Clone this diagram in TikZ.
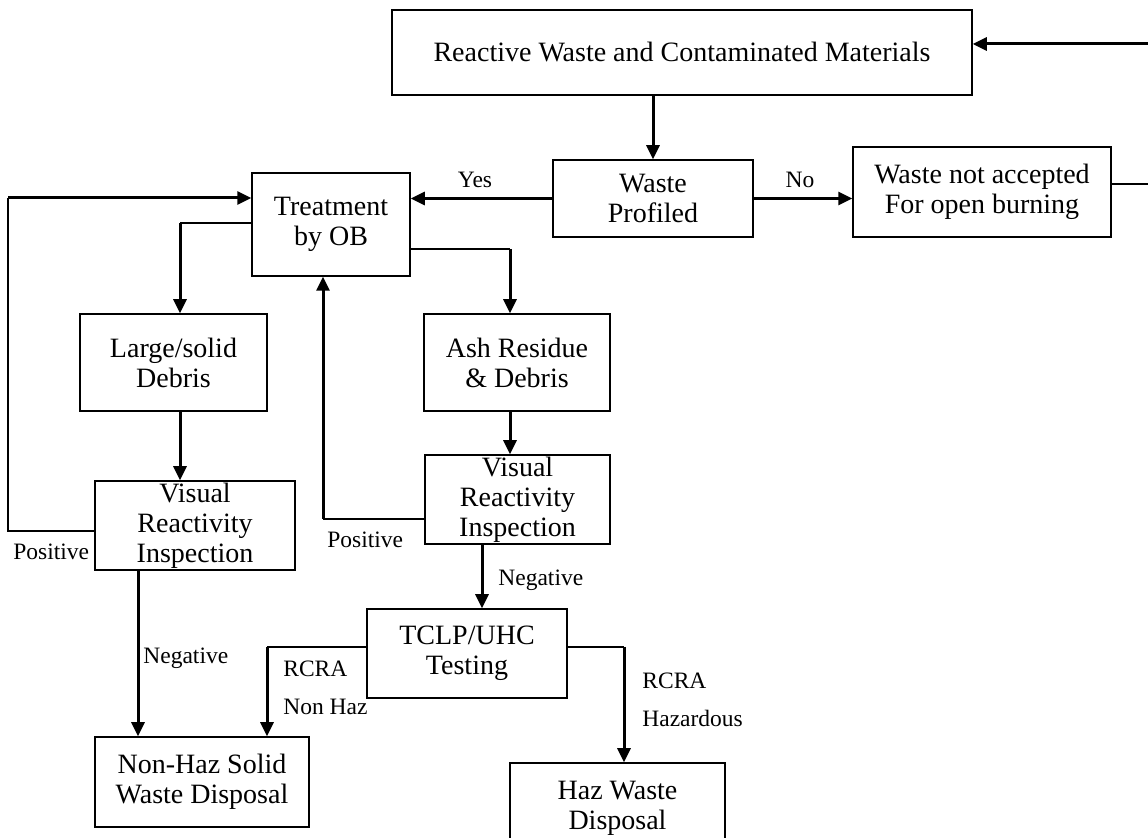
\documentclass[tikz,border=0pt]{standalone}
\usepackage{fontspec}
\setmainfont{Liberation Serif}
\usetikzlibrary{arrows.meta}
\newcommand{\mainfnt}{\fontsize{14}{15}\selectfont}
\newcommand{\labfnt}{\fontsize{11.75}{13}\selectfont}
\begin{document}
\begin{tikzpicture}[x=0.5pt,y=-0.5pt,
  box/.style={draw, line width=0.75pt, align=center, inner sep=0pt, font=\mainfnt},
  lab/.style={inner sep=0pt, font=\labfnt},
  thk/.style={line width=1.5pt},
  thn/.style={line width=0.7pt},
  arr/.style={-{Triangle[length=7pt,width=6.5pt]}}]
\useasboundingbox (0,0) rectangle (1148,838);
% boxes
\node[box, minimum width=290pt, minimum height=42.5pt] (r) at (682,52.5) {Reactive Waste and Contaminated Materials};
\node[box, minimum width=100pt, minimum height=38.5pt] (wp) at (653,198.5) {Waste\\Profiled};
\node[box, minimum width=129pt, minimum height=45pt] (wn) at (982,192) {Waste not accepted\\For open burning};
\node[box, minimum width=79pt, minimum height=51.5pt] (t) at (331,224.5) {Treatment\\by OB};
\node[box, minimum width=93.5pt, minimum height=48.5pt] (l) at (173.5,362.5) {Large/solid\\Debris};
\node[box, minimum width=93pt, minimum height=48.5pt] (a) at (517,362.5) {Ash Residue\\\& Debris};
\node[box, minimum width=100pt, minimum height=44.5pt] (vl) at (195,525.5) {Visual\\Reactivity\\Inspection};
\node[box, minimum width=92.5pt, minimum height=44.5pt] (vm) at (517.5,499.5) {Visual\\Reactivity\\Inspection};
\node[box, minimum width=100pt, minimum height=44.5pt] (tc) at (467,653.5) {TCLP/UHC\\Testing};
\node[box, minimum width=107pt, minimum height=45pt] (nh) at (202,782) {Non-Haz Solid\\Waste Disposal};
\node[box, minimum width=107.5pt, minimum height=45pt] (hz) at (617.5,808) {Haz Waste\\Disposal};
% junction coordinates
\coordinate (c1) at (1160,184);
\coordinate (c2) at (1160,44);
\coordinate (c3) at (180,223);
\coordinate (c4) at (510,249);
\coordinate (c5) at (8,531);
\coordinate (c6) at (8,198);
\coordinate (c7) at (323,519);
\coordinate (c8) at (138,570);
\coordinate (c9) at (482,544);
\coordinate (c10) at (267,647);
\coordinate (c11) at (624,647);
% connectors
\draw[thn] (c1 -| wn.east) -- (c1);
\draw[thk, arr] (c1) -- (c2) -- (c2 -| r.east);
\draw[thk, arr] (wp.north |- r.south) -- (wp.north);
\draw[thk, arr] (wp.west) -- (wp.west -| t.east);
\draw[thk, arr] (wp.east) -- (wp.east -| wn.west);
\draw[thn] (c3 -| t.west) -- (c3);
\draw[thk, arr] (c3) -- (c3 |- l.north);
\draw[thn] (c4 -| t.east) -- (c4);
\draw[thk, arr] (c4) -- (c4 |- a.north);
\draw[thk, arr] (c3 |- l.south) -- (c3 |- vl.north);
\draw[thk, arr] (c4 |- a.south) -- (c4 |- vm.north);
\draw[thn] (c5 -| vl.west) -- (c5) -- (c6);
\draw[thk, arr] (c6) -- (c6 -| t.west);
\draw[thn] (c7 -| vm.west) -- (c7);
\draw[thk, arr] (c7) -- (c7 |- t.south);
\draw[thk, arr] (c8 |- vl.south) -- (c8 |- nh.north);
\draw[thk, arr] (c9 |- vm.south) -- (c9 |- tc.north);
\draw[thn] (c10 -| tc.west) -- (c10);
\draw[thk, arr] (c10) -- (c10 |- nh.north);
\draw[thn] (c11 -| tc.east) -- (c11);
\draw[thk, arr] (c11) -- (c11 |- hz.north);
% labels
\node[lab, anchor=base] (lyes) at (475,188) {Yes};
\node[lab, anchor=base] (lno) at (800,188) {No};
\node[lab, anchor=base west] (lpos1) at (13,560) {Positive};
\node[lab, anchor=base west] (lpos2) at (327,548) {Positive};
\node[lab, anchor=base west] (lneg1) at (143,664) {Negative};
\node[lab, anchor=base west] (lneg2) at (498,586) {Negative};
\node[lab, anchor=base west] (lrc1) at (283,677) {RCRA};
\node[lab, anchor=base west] (lnh) at (283,715) {Non Haz};
\node[lab, anchor=base west] (lrc2) at (642,689) {RCRA};
\node[lab, anchor=base west] (lhz) at (642,727) {Hazardous};
\end{tikzpicture}
\end{document}
